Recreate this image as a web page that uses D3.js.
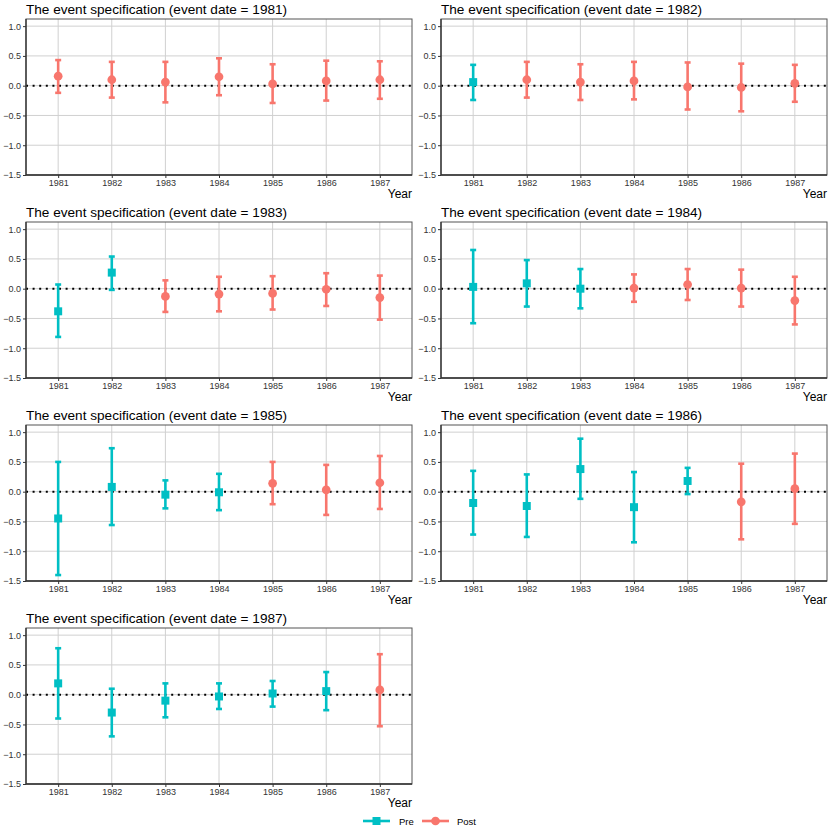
<!DOCTYPE html>
<html>
<head>
<meta charset="utf-8">
<script src="https://cdn.jsdelivr.net/npm/d3@7"></script>
<style>
  body { margin: 0; background: #fff; }
  text { font-family: "Liberation Sans", Arial, sans-serif; }
</style>
</head>
<body>
<div id="chart"></div>
<script>
// Years on the x axis, event dates for each panel
const years = [1981, 1982, 1983, 1984, 1985, 1986, 1987];
const eventDates = [1981, 1982, 1983, 1984, 1985, 1986, 1987];
const yTicks = [1.0, 0.5, 0.0, -0.5, -1.0, -1.5];

// estimates, one row per event date (columns follow years)
const estimates = [
    [0.16, 0.10, 0.06, 0.15, 0.03, 0.08, 0.10],
    [0.06, 0.10, 0.06, 0.08, -0.02, -0.03, 0.04],
    [-0.38, 0.27, -0.13, -0.09, -0.08, -0.01, -0.15],
    [0.03, 0.09, 0.00, 0.01, 0.07, 0.01, -0.20],
    [-0.45, 0.08, -0.05, -0.01, 0.14, 0.03, 0.15],
    [-0.19, -0.24, 0.38, -0.26, 0.18, -0.17, 0.05],
    [0.19, -0.30, -0.10, -0.03, 0.02, 0.06, 0.08]
];
const upper = [
    [0.43, 0.40, 0.40, 0.46, 0.36, 0.42, 0.41],
    [0.35, 0.40, 0.36, 0.40, 0.39, 0.37, 0.35],
    [0.07, 0.54, 0.14, 0.20, 0.21, 0.26, 0.22],
    [0.65, 0.48, 0.33, 0.24, 0.33, 0.32, 0.20],
    [0.50, 0.73, 0.19, 0.30, 0.50, 0.45, 0.60],
    [0.35, 0.29, 0.89, 0.33, 0.40, 0.47, 0.64],
    [0.78, 0.10, 0.19, 0.19, 0.23, 0.38, 0.68]
];
const lower = [
    [-0.12, -0.20, -0.28, -0.16, -0.29, -0.25, -0.22],
    [-0.24, -0.20, -0.24, -0.23, -0.40, -0.43, -0.27],
    [-0.81, -0.02, -0.39, -0.38, -0.35, -0.29, -0.52],
    [-0.58, -0.30, -0.33, -0.22, -0.19, -0.30, -0.60],
    [-1.40, -0.56, -0.28, -0.31, -0.21, -0.39, -0.29],
    [-0.72, -0.76, -0.12, -0.85, -0.04, -0.80, -0.54],
    [-0.40, -0.70, -0.38, -0.24, -0.20, -0.26, -0.53]
];

const colors = { Pre: "#00BFC4", Post: "#F8766D" };

const W = 830, H = 830;
const svg = d3.select("#chart").append("svg")
    .attr("width", W).attr("height", H);

const colW = 415;
const plotLeft = 26, plotW = 386, plotH = 156;
const rowTop = r => 19 + r * 203;

const x = d3.scaleLinear().domain([1980.4, 1987.6]).range([0, plotW]);
const y = d3.scaleLinear().domain([-1.5, 1.12]).range([plotH, 0]);

eventDates.forEach((ev, i) => {
    const col = i % 2, row = Math.floor(i / 2);
    const g = svg.append("g")
        .attr("transform", `translate(${col * colW + plotLeft},${rowTop(row)})`);

    // title
    g.append("text")
        .attr("x", 0).attr("y", -5)
        .attr("font-size", 13.6)
        .attr("fill", "#000")
        .text(`The event specification (event date = ${ev})`);

    // grid
    g.append("g").selectAll("line.h").data(yTicks).join("line")
        .attr("x1", 0).attr("x2", plotW)
        .attr("y1", d => y(d)).attr("y2", d => y(d))
        .attr("stroke", "#d0d0d0").attr("stroke-width", 1);
    g.append("g").selectAll("line.v").data(years).join("line")
        .attr("x1", d => x(d)).attr("x2", d => x(d))
        .attr("y1", 0).attr("y2", plotH)
        .attr("stroke", "#d0d0d0").attr("stroke-width", 1);

    // zero line
    g.append("line")
        .attr("x1", 0).attr("x2", plotW)
        .attr("y1", y(0)).attr("y2", y(0))
        .attr("stroke", "#000").attr("stroke-width", 2)
        .attr("stroke-dasharray", "2,4.6");

    // data rows
    const data = years.map((yr, j) => ({
        year: yr,
        est: estimates[i][j],
        lo: lower[i][j],
        hi: upper[i][j],
        group: yr < ev ? "Pre" : "Post"
    }));

    const bars = g.append("g").selectAll("g").data(data).join("g")
        .attr("stroke", d => colors[d.group])
        .attr("stroke-width", 2.6);
    bars.append("line")
        .attr("x1", d => x(d.year)).attr("x2", d => x(d.year))
        .attr("y1", d => y(d.lo)).attr("y2", d => y(d.hi));
    bars.append("line")
        .attr("x1", d => x(d.year) - 3).attr("x2", d => x(d.year) + 3)
        .attr("y1", d => y(d.hi)).attr("y2", d => y(d.hi));
    bars.append("line")
        .attr("x1", d => x(d.year) - 3).attr("x2", d => x(d.year) + 3)
        .attr("y1", d => y(d.lo)).attr("y2", d => y(d.lo));

    g.append("g").selectAll("path").data(data).join("path")
        .attr("transform", d => `translate(${x(d.year)},${y(d.est)})`)
        .attr("d", d => d.group === "Pre"
            ? d3.symbol(d3.symbolSquare, 64)()
            : d3.symbol(d3.symbolCircle, 60)())
        .attr("fill", d => colors[d.group]);

    // border
    g.append("rect")
        .attr("width", plotW).attr("height", plotH)
        .attr("fill", "none").attr("stroke", "#555").attr("stroke-width", 1);
    g.append("path")
        .attr("d", `M0,0V${plotH}H${plotW}`)
        .attr("fill", "none").attr("stroke", "#333").attr("stroke-width", 1.3);

    // axes
    const yAxis = g.append("g")
        .call(d3.axisLeft(y).tickValues(yTicks).tickSize(3).tickPadding(2)
            .tickFormat(d3.format(".1f")));
    yAxis.select(".domain").remove();
    yAxis.selectAll("line").attr("stroke", "#333");
    yAxis.selectAll("text").attr("font-size", 9).attr("fill", "#333")
        .attr("font-family", "Liberation Sans, Arial, sans-serif")
        .text(d => d3.format(".1f")(d).replace("-", "\u2212"));

    const xAxis = g.append("g")
        .attr("transform", `translate(0,${plotH})`)
        .call(d3.axisBottom(x).tickValues(years).tickSize(3).tickPadding(2)
            .tickFormat(d3.format("d")));
    xAxis.select(".domain").remove();
    xAxis.selectAll("line").attr("stroke", "#333");
    xAxis.selectAll("text").attr("font-size", 9).attr("fill", "#333")
        .attr("font-family", "Liberation Sans, Arial, sans-serif");

    g.append("text")
        .attr("x", plotW).attr("y", plotH + 23)
        .attr("text-anchor", "end")
        .attr("font-size", 12)
        .text("Year");
});

// legend
const legend = svg.append("g").attr("transform", "translate(0,821)");
const items = [
    { label: "Pre", x0: 363, tx: 399 },
    { label: "Post", x0: 422, tx: 457 }
];
items.forEach(it => {
    const c = colors[it.label];
    legend.append("line")
        .attr("x1", it.x0).attr("x2", it.x0 + 27)
        .attr("stroke", c).attr("stroke-width", 2.6);
    legend.append("path")
        .attr("transform", `translate(${it.x0 + 13.5},0)`)
        .attr("d", it.label === "Pre"
            ? d3.symbol(d3.symbolSquare, 64)()
            : d3.symbol(d3.symbolCircle, 60)())
        .attr("fill", c);
    legend.append("text")
        .attr("x", it.tx).attr("y", 3.5)
        .attr("font-size", 9.5).attr("fill", "#000")
        .text(it.label);
});
</script>
</body>
</html>
